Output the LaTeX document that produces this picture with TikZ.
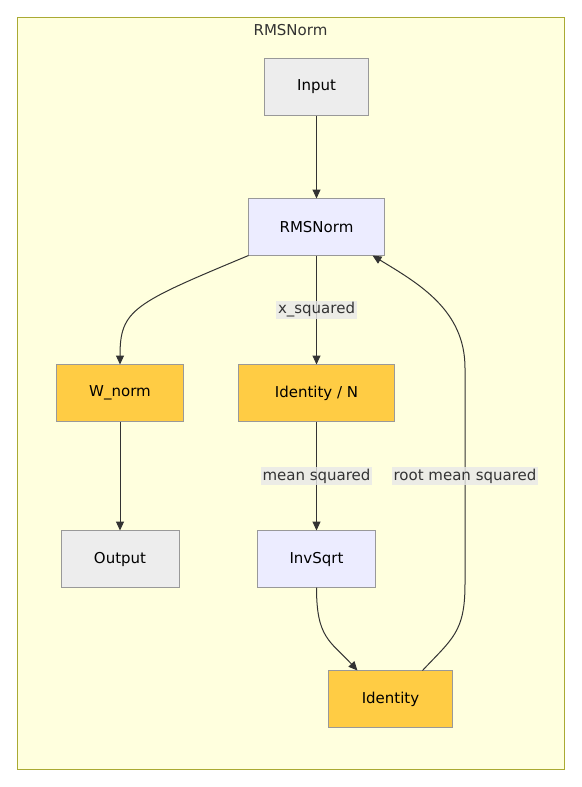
\documentclass[tikz,border=0pt]{standalone}
\usepackage{fontspec}
\setmainfont{DejaVu Sans}
\usetikzlibrary{arrows.meta, positioning}

\definecolor{clusterfill}{HTML}{FFFFDE}
\definecolor{clusterline}{HTML}{AAAA33}
\definecolor{lavender}{HTML}{ECECFF}
\definecolor{amber}{HTML}{FFCC44}
\definecolor{inkgray}{HTML}{333333}

\begin{document}
\begin{tikzpicture}[
    x=1pt, y=-1pt,
    node distance=83pt and 55pt,
    base/.style={rectangle, draw=black!40, line width=1pt, outer sep=0pt, minimum height=57pt, align=center, text=black, font=\fontsize{15}{18}\selectfont},
    io/.style={base, fill=black!7},
    op/.style={base, fill=lavender},
    gain/.style={base, fill=amber},
    arrow/.style={-{Triangle[length=9pt, width=8pt]}, line width=1pt, inkgray},
    elabel/.style={fill=black!9, fill opacity=0.8, text opacity=1, text=inkgray, inner sep=2pt, font=\fontsize{15}{18}\selectfont}
]

% Frame
\useasboundingbox (0,0) rectangle (581,787);
\fill[white] (0,0) rectangle (581,787);
\draw[fill=clusterfill, draw=clusterline, line width=1pt] (17,17) rectangle (564,769);
\node[text=inkgray, font=\fontsize{15}{18}\selectfont] (title) at (290.5,30) {RMSNorm};

% Main column
\node[io, minimum width=104pt] (input) at (316.5,87) {Input};
\node[op, minimum width=136pt, below=83pt of input] (rms) {RMSNorm};
\node[gain, minimum width=156pt, below=109pt of rms] (idn) {Identity / N};
\node[op, minimum width=118pt, below=109pt of idn] (invsqrt) {InvSqrt};
\node[gain, minimum width=124pt, below=83pt of invsqrt, xshift=74pt] (ident) {Identity};

% Weight branch
\node[gain, minimum width=127pt, left=55pt of idn] (wnorm) {W\_norm};
\node[io, minimum width=118pt, below=109pt of wnorm] (output) {Output};

% Turning points of the feedback path
\coordinate (turnlo) at (465,584);
\coordinate (turnhi) at (465,368);

% Arrows
\draw[arrow] (input) -- (rms);
\draw[arrow] (rms.south west) .. controls +(-115,48) and +(0,-55) .. (wnorm.north);
\draw[arrow] (rms) -- node[elabel] {x\_squared} (idn);
\draw[arrow] (wnorm) -- (output);
\draw[arrow] (idn) -- node[elabel] {mean squared} (invsqrt);
\draw[arrow] (invsqrt.south) .. controls +(0,50) and +(-28,-30) .. ([xshift=-33pt]ident.north);
\draw[arrow] ([xshift=32pt]ident.north) .. controls +(30,-32) and +(0,48) .. (turnlo)
    -- node[elabel] {root mean squared} (turnhi)
    .. controls +(0,-58) and +(46,28) .. ([xshift=56pt]rms.south);

\end{tikzpicture}
\end{document}
